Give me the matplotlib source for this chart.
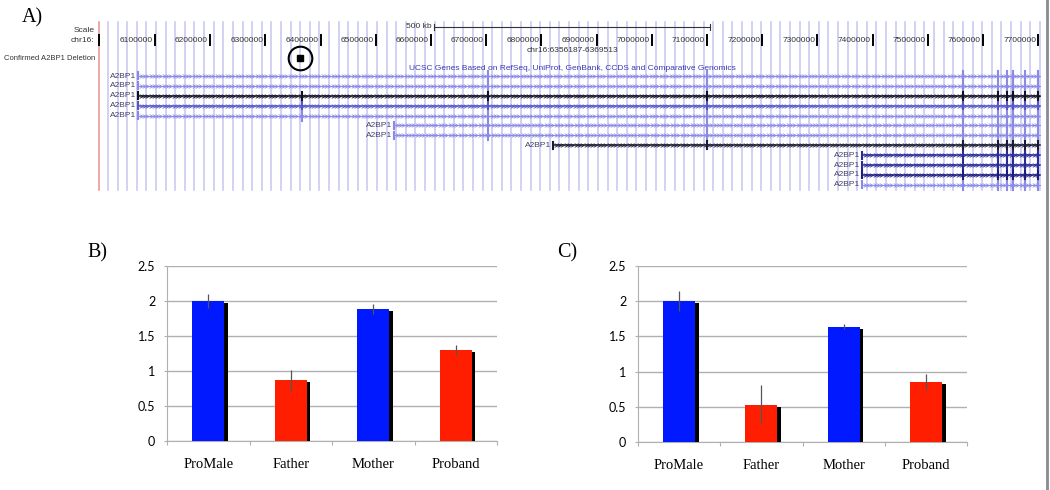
import numpy as np
import matplotlib.pyplot as plt
import matplotlib.patheffects as pe
from matplotlib.path import Path
from matplotlib.lines import Line2D

# ---- panel A: genome browser view of chr16 ----
track_ticks = [6100000, 6200000, 6300000, 6400000, 6500000, 6600000, 6700000, 6800000,
               6900000, 7000000, 7100000, 7200000, 7300000, 7400000, 7500000, 7600000, 7700000]
deletion = (6356187, 6369513)
scale_bar = (6605000, 7105000)
gene_starts = [6069000, 6069000, 6069000, 6069000, 6069000, 6533000, 6533000,
               6821000, 7381000, 7381000, 7381000, 7381000]
gene_end = 7703000
gene_colors = ['#8a8ae6', '#8a8ae6', '#111122', '#5555c8', '#8a8ae6', '#8a8ae6', '#8a8ae6',
               '#1a1a33', '#2a2a99', '#2a2a99', '#1c1c80', '#8a8ae6']
exon_pos = [6366300, 6703300, 7100000, 7563800, 7627200, 7643500, 7654300, 7676100, 7699600]
first_exon_rows = [2, 3, 4]

# ---- panels B and C: copy number bars ----
categories = ['ProMale', 'Father', 'Mother', 'Proband']
b_vals = [2.0, 0.87, 1.89, 1.30]
b_err = [0.10, 0.15, 0.07, 0.07]
c_vals = [2.0, 0.53, 1.64, 0.85]
c_err = [0.14, 0.28, 0.03, 0.11]
bar_colors = ['#0019ff', '#ff1f00', '#0019ff', '#ff1f00']

W, H = 1050, 490
fig = plt.figure(figsize=(W / 100, H / 100), dpi=100)

ucsc = 'Liberation Sans'
light = '#8a8ae6'

# track axes: x in genome coords, y in pixels from the top
axA = fig.add_axes([97 / W, 1 - 200 / H, 948 / W, 200 / H])
axA.set_xlim(5995000, 7712300)
axA.set_ylim(200, 0)
axA.axis('off')

# guide lines
for g in np.arange(6015000, 7705000, 17400):
    axA.plot([g, g], [22, 190], color='#cacaf4', lw=1.2, zorder=0)
axA.plot([5998000, 5998000], [22, 190], color='#eb9a9a', lw=1.2, zorder=1)

# left labels
ytr = axA.get_yaxis_transform()
axA.text(-0.003, 30, 'Scale', transform=ytr, ha='right', va='center',
         fontsize=6, family=ucsc, color='#333333')
axA.text(-0.003, 40, 'chr16:', transform=ytr, ha='right', va='center',
         fontsize=6, family=ucsc, color='#333333')
axA.plot([5999000, 5999000], [35, 45], color='black', lw=1.4)
axA.text(-0.002, 59, 'Confirmed A2BP1 Deletion', transform=ytr,
         ha='right', va='center', fontsize=5.5, family=ucsc, color='#333333')

# scale bar
axA.plot(scale_bar, [27, 27], color='#333333', lw=0.8)
for g in scale_bar:
    axA.plot([g, g], [24, 30], color='#333333', lw=0.8)
axA.annotate('500 kb', (scale_bar[0], 27), xytext=(-1.5, 0), textcoords='offset points',
             ha='right', va='center', fontsize=6, family=ucsc, color='#333333')

# position ticks
for t in track_ticks:
    axA.plot([t, t], [35, 45], color='black', lw=1.4)
    axA.annotate(f'{t}', (t, 40), xytext=(-1.5, 0), textcoords='offset points',
                 ha='right', va='center', fontsize=6, family=ucsc, color='#333333')
axA.text(6857000, 50, f'chr16:{deletion[0]}-{deletion[1]}', ha='center',
         va='center', fontsize=6, family=ucsc, color='#333333')

# deletion mark
mid = sum(deletion) / 2
axA.plot(mid, 58, marker='o', ms=17, mfc='none', mec='black', mew=1.5)
axA.plot(mid, 58, marker='s', ms=5, color='black')

axA.text(6857000, 68, 'UCSC Genes Based on RefSeq, UniProt, GenBank, CCDS and Comparative Genomics',
         ha='center', va='center', fontsize=6, family=ucsc, color='#3b3bb0')

chevron = Path([(-1, 1), (1, 0), (-1, -1)], [Path.MOVETO, Path.LINETO, Path.LINETO])
for i, (start, col) in enumerate(zip(gene_starts, gene_colors)):
    y = 76 + i * 9.9
    dark = col != light
    half = 3.8 if dark else 5.0
    axA.plot([start, gene_end], [y, y], color=col, lw=1.1 if dark else 0.7, zorder=2)
    xs = np.arange(start + 5000, gene_end - 2000, 6000)
    axA.plot(xs, np.full(len(xs), y), ls='none', marker=chevron, ms=2.6, mfc='none',
             mec=col, mew=0.6, zorder=2)
    axA.plot([start, start], [y - 3.5, y + 3.5], color=col, lw=1.5, zorder=3)
    for j, e in enumerate(exon_pos):
        if e < start or (j == 0 and i not in first_exon_rows):
            continue
        axA.plot([e, e], [y - half, y + half], color=col, lw=1.5, zorder=3 if dark else 1.5)
    axA.annotate('A2BP1', (start, y), xytext=(-1, 0), textcoords='offset points', ha='right',
                 va='center', fontsize=6, family=ucsc, color='#40406a')

fig.text(22 / W, 1 - 18 / H, 'A)', fontsize=14.5, family='Liberation Serif', va='center')
fig.text(87 / W, 1 - 253 / H, 'B)', fontsize=14.5, family='Liberation Serif', va='center')
fig.text(557 / W, 1 - 253 / H, 'C)', fontsize=14.5, family='Liberation Serif', va='center')

fig.add_artist(Line2D([1046.5 / W, 1046.5 / W], [0, 1], color='#8a8a92', lw=2))


def bar_panel(rect, vals, errs):
    ax = fig.add_axes(rect)
    x = np.arange(len(categories)) + 0.5
    bars = ax.bar(x, vals, width=0.39, color=bar_colors, zorder=3)
    for b in bars:
        b.set_path_effects([pe.SimplePatchShadow(offset=(2.6, -1.6), shadow_rgbFace='black',
                                                 alpha=1.0), pe.Normal()])
    ax.errorbar(x, vals, yerr=errs, fmt='none', ecolor='#555555', elinewidth=0.9, capsize=0,
                zorder=4)
    ax.set_xlim(0, 4)
    ax.set_ylim(0, 2.5)
    ax.set_yticks(np.arange(0, 2.51, 0.5))
    ax.set_yticklabels(['0', '0.5', '1', '1.5', '2', '2.5'], family='Lato', fontsize=9)
    ax.yaxis.grid(True, color='#b0b0b0', lw=1)
    ax.set_axisbelow(True)
    ax.set_xticks([0, 1, 2, 3, 4])
    ax.set_xticklabels([])
    ax.set_xticks(x, minor=True)
    ax.set_xticklabels(categories, minor=True, family='Liberation Serif', fontsize=10.5)
    ax.tick_params(axis='x', which='major', length=3, color='#b0b0b0')
    ax.tick_params(axis='x', which='minor', length=0, pad=12)
    ax.tick_params(axis='y', length=2.5, color='#b0b0b0', pad=6)
    for s in ['top', 'right']:
        ax.spines[s].set_visible(False)
    for s in ['left', 'bottom']:
        ax.spines[s].set_color('#b0b0b0')
    return ax


bar_panel([167 / W, 1 - 441 / H, 330 / W, 175 / H], b_vals, b_err)
bar_panel([638 / W, 1 - 442 / H, 329 / W, 176 / H], c_vals, c_err)

fig.savefig('out.png', dpi=100)
